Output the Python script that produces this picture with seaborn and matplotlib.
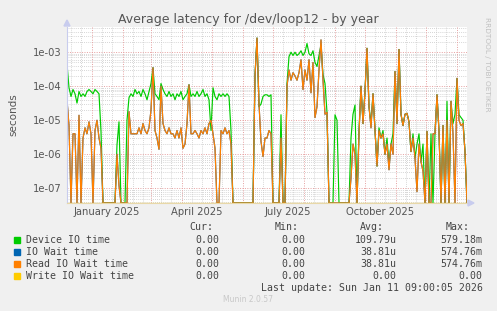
import numpy as np
import pandas as pd
import matplotlib
matplotlib.use("Agg")
import matplotlib.pyplot as plt
import seaborn as sns

# ---------------- data (2-day resolution, starting 2024-12-07) ----------------
start_date = "2024-12-07"
end_date = "2026-01-11"

device_io = [
    4.5e-4, 9e-5, 5e-5, 8e-5, 6e-5, 3.2e-5, 7e-5, 5e-5, 6e-5, 5e-5,   # d0-18
    7e-5, 8e-5, 7e-5, 6e-5, 8e-5, 7e-5, 6e-5, 4.7e-6, 0, 0,           # d20-38
    0, 0, 0, 0, 0, 1.9e-6, 9e-6, 0, 0, 0,                             # d40-58
    1e-5, 4.6e-5, 6e-5, 5e-5, 8e-5, 6e-5, 7e-5, 5e-5, 8e-5, 6e-5,     # d60-78
    4e-5, 7e-5, 1.2e-4, 3.5e-4, 6e-5, 5e-5, 4e-5, 1.2e-4, 8e-5, 6e-5, # d80-98
    5e-5, 7e-5, 5e-5, 6e-5, 4e-5, 6e-5, 5e-5, 7e-5, 4e-5, 5e-5,       # d100-118
    6e-5, 1.1e-4, 5e-5, 6e-5, 5e-5, 7e-5, 5e-5, 6e-5, 8e-5, 5e-5,     # d120-138
    6e-5, 4e-5, 5e-6, 9e-5, 5e-5, 4e-5, 6e-5, 5e-5, 6e-5, 5e-5,       # d140-158
    6e-5, 5e-5, 5e-6, 0, 0, 0, 0, 0, 0, 0,                            # d160-178
    0, 0, 0, 0, 2.1e-4, 2.6e-3, 2.5e-5, 3e-5, 5e-5, 5.6e-5,           # d180-198
    5.6e-5, 5e-5, 5.6e-5, 0, 0, 0, 0, 1.45e-5, 0, 0,                  # d200-218
    1.2e-4, 7.4e-4, 1e-3, 8e-4, 1e-3, 8e-4, 9e-4, 1.1e-3, 8e-4, 1e-3, # d220-238
    1.8e-3, 9e-4, 8e-4, 1.1e-3, 5e-4, 3.8e-4, 8e-4, 1.6e-3, 2.2e-4, 1.2e-4,  # d240-258
    1.7e-5, 0, 0, 0, 1.45e-5, 1e-5, 0, 0, 0, 0,                       # d260-278
    0, 0, 3e-6, 1.5e-5, 2.8e-5, 0, 5e-6, 1e-4, 8e-6, 7e-5,            # d280-298
    1.3e-3, 2.5e-5, 8e-6, 6e-5, 5e-6, 4.5e-7, 6e-6, 3e-6, 5e-6, 1e-6, # d300-318
    3e-6, 5e-7, 2e-6, 4e-6, 2.7e-4, 8e-6, 1.2e-3, 1.5e-5, 7e-6, 1.5e-5,  # d320-338
    1.6e-5, 9e-6, 1.2e-6, 4e-6, 7.8e-7, 2e-6, 4e-6, 6e-7, 2e-6, 0,    # d340-358
    4.7e-6, 0, 4e-6, 0, 4e-6, 5.6e-5, 4.7e-6, 0, 7e-6, 0,             # d360-378
    3.6e-5, 0, 3.6e-5, 8e-6, 1.5e-5, 1.7e-4, 1.45e-5, 1.2e-5, 1e-5, 1.2e-6,  # d380-398
    0,                                                                # d400
]

read_io_wait = [
    4e-5, 7e-6, 0, 4e-6, 4e-6, 0, 1.4e-5, 0, 3e-6, 6e-6,              # d0-18
    4e-6, 9e-6, 4e-6, 0, 5e-6, 1e-5, 3e-6, 1.5e-6, 0, 0,              # d20-38
    0, 0, 0, 0, 0, 1e-6, 1.2e-7, 0, 0, 0,                             # d40-58
    0, 1.8e-5, 4e-6, 4e-6, 4e-6, 4e-6, 6e-6, 4e-6, 8e-6, 5e-6,        # d60-78
    4e-6, 6e-6, 2e-5, 3.5e-4, 5e-6, 3e-6, 1.4e-6, 1e-4, 8e-6, 5e-6,   # d80-98
    4e-6, 6e-6, 4e-6, 4e-6, 3e-6, 5e-6, 3e-6, 6e-6, 1.5e-6, 2e-6,     # d100-118
    8e-6, 1.1e-4, 4e-6, 4e-6, 5e-6, 4e-6, 3e-6, 5e-6, 4e-6, 6e-6,     # d120-138
    4e-6, 8e-6, 1e-5, 4e-6, 1.5e-6, 0, 0, 5e-6, 4e-6, 6e-6,           # d140-158
    4e-6, 5e-6, 2e-6, 0, 0, 0, 0, 0, 0, 0,                            # d160-178
    0, 0, 0, 0, 2e-4, 2.6e-3, 3e-5, 2.4e-6, 8.6e-7, 3e-6,             # d180-198
    3e-6, 5e-6, 4e-6, 0, 0, 0, 0, 3e-6, 0, 0,                         # d200-218
    1e-4, 3e-4, 1.5e-4, 2.5e-4, 2e-4, 1.5e-4, 2.5e-4, 6e-4, 8e-5, 3e-4,  # d220-238
    1.5e-4, 6e-4, 6.4e-5, 5e-4, 1.2e-5, 2.5e-5, 3e-4, 2.3e-3, 1.5e-4, 1.5e-5,  # d240-258
    1.7e-5, 0, 0, 0, 0, 0, 0, 0, 0, 0,                                # d260-278
    0, 0, 2e-7, 2e-6, 1e-6, 0, 4e-6, 1e-4, 8e-6, 7e-5,                # d280-298
    1.3e-3, 2.5e-5, 6e-6, 6e-5, 5e-6, 4.5e-7, 5e-6, 3e-6, 4e-6, 1e-6, # d300-318
    2e-6, 3.5e-7, 2e-6, 1e-6, 2.7e-4, 8e-6, 1.2e-3, 1.5e-5, 7e-6, 1.5e-5,  # d320-338
    1.6e-5, 9e-6, 1.2e-6, 3e-6, 7.8e-7, 8e-8, 2e-6, 6e-7, 3.2e-7, 0,  # d340-358
    4.7e-6, 0, 0, 4e-6, 4e-6, 5.6e-5, 4.7e-6, 0, 7e-6, 0,             # d360-378
    1e-5, 0, 3.6e-5, 4e-6, 0, 1.7e-4, 1e-5, 7e-6, 8e-6, 1.2e-6,       # d380-398
    0,                                                                # d400
]

io_wait = list(read_io_wait)          # identical to read wait (hidden beneath it)
write_io_wait = [0.0] * len(read_io_wait)

series_names = ["Device IO time", "IO Wait time", "Read IO Wait time", "Write IO Wait time"]
series_colors = ["#00CC00", "#0066B3", "#FF8000", "#FFCC00"]

legend_cur = ["0.00", "0.00", "0.00", "0.00"]
legend_min = ["0.00", "0.00", "0.00", "0.00"]
legend_avg = ["109.79u", "38.81u", "38.81u", "0.00"]
legend_max = ["579.18m", "574.76m", "574.76m", "0.00"]

ytick_vals = [1e-7, 1e-6, 1e-5, 1e-4, 1e-3]
ytick_labels = ["1e-07", "1e-06", "1e-05", "1e-04", "1e-03"]

# ---------------- build frame ----------------
dates = pd.date_range(start_date, periods=len(device_io), freq="2D")
YMIN, YMAX = 3.7e-8, 5.5e-3

frames = []
for name, vals in zip(series_names, [device_io, io_wait, read_io_wait, write_io_wait]):
    v = np.clip(np.array(vals, dtype=float), YMIN, None)
    frames.append(pd.DataFrame({"date": dates, "value": v, "series": name}))
df = pd.concat(frames, ignore_index=True)

# ---------------- figure ----------------
sns.set_style("white")
plt.rcParams["font.family"] = ["DejaVu Sans"]

W, H = 497, 311
fig = plt.figure(figsize=(W / 100, H / 100), dpi=100, facecolor="#F0F0F0")
L, R, T, B = 67, 467, 27, 203
ax = fig.add_axes([L / W, 1 - B / H, (R - L) / W, (B - T) / H])
ax.set_facecolor("white")

ax.set_yscale("log")
ax.set_ylim(YMIN, YMAX)
x0 = pd.Timestamp(start_date)
x1 = pd.Timestamp(end_date)
ax.set_xlim(x0, x1)

# grid: horizontal
minor_y = [m * 10.0 ** e for e in range(-8, -2) for m in range(2, 10)]
for yv in minor_y:
    if YMIN < yv < YMAX:
        ax.axhline(yv, color="#C8C8C8", lw=0.6, ls=(0, (1, 1.5)), zorder=0)
for yv in ytick_vals:
    ax.axhline(yv, color="#E6A0A0", lw=0.7, ls=(0, (1, 1.5)), zorder=0)

# grid: vertical
month_starts = pd.date_range("2025-01-01", end_date, freq="MS")
minor_days = [d + pd.Timedelta(days=k) for d in pd.date_range("2024-12-01", end_date, freq="MS") for k in (10, 20)]
for d in minor_days:
    if x0 < d < x1:
        ax.axvline(d, color="#C8C8C8", lw=0.6, ls=(0, (1, 1.5)), zorder=0)
for d in month_starts:
    ax.axvline(d, color="#E6A0A0", lw=0.7, ls=(0, (1, 1.5)), zorder=0)

sns.lineplot(data=df, x="date", y="value", hue="series", hue_order=series_names,
             palette=series_colors, legend=False, lw=0.85, ax=ax,
             estimator=None, sort=False)

# ticks
ax.set_yticks(ytick_vals)
ax.set_yticklabels(ytick_labels)
ax.yaxis.set_minor_locator(matplotlib.ticker.NullLocator())
label_dates = pd.to_datetime(["2025-01-16", "2025-04-16", "2025-07-16", "2025-10-16"])
ax.set_xticks(label_dates)
ax.set_xticklabels([d.strftime("%B %Y") for d in label_dates])
ax.tick_params(axis="both", length=0, labelsize=7.2, labelcolor="#555555", pad=4)
ax.tick_params(axis="x", pad=3)
ax.set_xlabel("")
ax.set_ylabel("seconds", fontsize=7.5, color="#555555", labelpad=10)

for s in ["top", "right"]:
    ax.spines[s].set_visible(False)
ax.spines["left"].set_color("#C8CCEE")
ax.spines["bottom"].set_color("#E8D8A8")
ax.spines["left"].set_linewidth(0.8)
ax.spines["bottom"].set_linewidth(0.8)

# axis arrows
fig.patches.append(matplotlib.patches.Polygon(
    [[(L - 3) / W, 1 - 26 / H], [(L + 3) / W, 1 - 26 / H], [L / W, 1 - 20 / H]],
    closed=True, transform=fig.transFigure, color="#C8CCEE"))
fig.patches.append(matplotlib.patches.Polygon(
    [[(R + 1) / W, 1 - (B - 3) / H], [(R + 1) / W, 1 - (B + 3) / H], [(R + 7) / W, 1 - B / H]],
    closed=True, transform=fig.transFigure, color="#C8CCEE"))

# title
fig.text(248.5 / W, 1 - 19 / H, "Average latency for /dev/loop12 - by year",
         ha="center", va="center", fontsize=9, color="#555555")
fig.text(487 / W, 1 - 17 / H, "RRDTOOL / TOBI OETIKER", rotation=270,
         ha="center", va="top", fontsize=5.3, color="#C0C0C0")

# legend block
mono = "DejaVu Sans Mono"
fs = 7.1
tc = "#444444"
hy = 227
fig.text(213 / W, 1 - hy / H, "Cur:", ha="right", va="center", fontsize=fs, family=mono, color=tc)
fig.text(299 / W, 1 - hy / H, "Min:", ha="right", va="center", fontsize=fs, family=mono, color=tc)
fig.text(384 / W, 1 - hy / H, "Avg:", ha="right", va="center", fontsize=fs, family=mono, color=tc)
fig.text(470 / W, 1 - hy / H, "Max:", ha="right", va="center", fontsize=fs, family=mono, color=tc)
for i, name in enumerate(series_names):
    yy = 240 + i * 12
    fig.patches.append(matplotlib.patches.Rectangle(
        (14 / W, 1 - (yy + 3) / H), 6 / W, 6 / H, transform=fig.transFigure,
        color=series_colors[i]))
    fig.text(26 / W, 1 - yy / H, name, ha="left", va="center", fontsize=fs, family=mono, color=tc)
    fig.text(219 / W, 1 - yy / H, legend_cur[i], ha="right", va="center", fontsize=fs, family=mono, color=tc)
    fig.text(305.7 / W, 1 - yy / H, legend_min[i], ha="right", va="center", fontsize=fs, family=mono, color=tc)
    fig.text(396.7 / W, 1 - yy / H, legend_avg[i], ha="right", va="center", fontsize=fs, family=mono, color=tc)
    fig.text(482.7 / W, 1 - yy / H, legend_max[i], ha="right", va="center", fontsize=fs, family=mono, color=tc)
fig.text(482.7 / W, 1 - 288 / H, "Last update: Sun Jan 11 09:00:05 2026", ha="right", va="center",
         fontsize=fs, family=mono, color=tc)
fig.text(248 / W, 1 - 300 / H, "Munin 2.0.57", ha="center", va="center", fontsize=5.5, color="#C8C8C8")

fig.savefig("out.png", dpi=100, facecolor=fig.get_facecolor())
